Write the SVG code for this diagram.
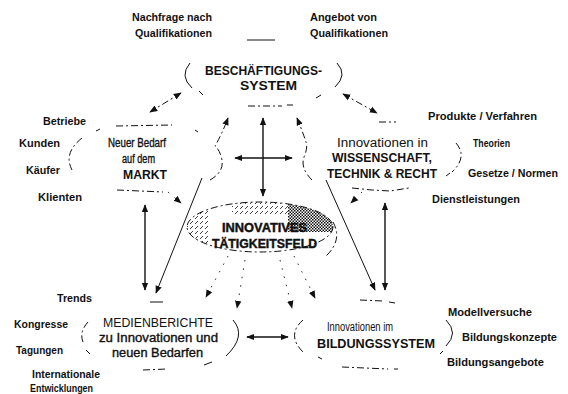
<svg xmlns="http://www.w3.org/2000/svg" width="568" height="394" viewBox="0 0 568 394">
<style>
text{font-family:"Liberation Sans",Arial,sans-serif;fill:#111}
.l{font-size:10px;font-weight:bold}
.n{font-size:12px}
.b{font-weight:bold}
.m{stroke:#111;stroke-width:0.35}
.p{fill:none;stroke:#111;stroke-width:1}
.d{stroke-dasharray:7 3 2 3}
.s{fill:none;stroke:#111;stroke-width:1.4}
.f{fill:none;stroke:#111;stroke-width:0.9;stroke-dasharray:1.5 7}
</style>
<defs>
<marker id="a" viewBox="0 0 10 10" refX="9" refY="5" markerWidth="8" markerHeight="8" markerUnits="userSpaceOnUse" orient="auto-start-reverse"><path d="M0,1 L10,5 L0,9 z" fill="#111"/></marker>
<pattern id="chk" width="3" height="3" patternUnits="userSpaceOnUse"><rect width="1.5" height="1.5" fill="#111"/><rect x="1.5" y="1.5" width="1.5" height="1.5" fill="#111"/></pattern>
<pattern id="hat" width="5" height="5" patternUnits="userSpaceOnUse"><path d="M0,4 L3,1" stroke="#111" stroke-width="0.8"/></pattern>
<clipPath id="ec"><ellipse cx="260" cy="227" rx="73" ry="25"/></clipPath>
</defs>
<rect width="568" height="394" fill="#fff"/>

<g id="connectors">
<path class="p d" d="M181,93 L150,112" marker-start="url(#a)" marker-end="url(#a)"/>
<path class="p d" d="M343,94 L377,113" marker-start="url(#a)" marker-end="url(#a)"/>
<path class="s" d="M263,118 V196" marker-start="url(#a)" marker-end="url(#a)"/>
<path class="s" d="M235,158 H292" marker-start="url(#a)" marker-end="url(#a)"/>
<path class="p d" d="M210,180 Q224,172 222,160 Q220,150 215,146 Q222,134 228,118" marker-end="url(#a)"/>
<path class="p d" d="M312,180 Q300,168 304,157 Q308,148 306,142 Q302,130 297,118" marker-end="url(#a)"/>
<path class="p" d="M202,178 L156,293" marker-end="url(#a)"/>
<path class="p" d="M326,180 L375,290" marker-end="url(#a)"/>
<path class="s" d="M145,205 V290" marker-start="url(#a)" marker-end="url(#a)"/>
<path class="s" d="M385,203 V290" marker-start="url(#a)" marker-end="url(#a)"/>
<path class="s" d="M247,337 H288" marker-start="url(#a)" marker-end="url(#a)"/>
<path class="f" d="M168,192 L181,203" marker-end="url(#a)"/>
<path class="f" d="M362,192 L351,203" marker-end="url(#a)"/>
<path class="f" d="M228,256 L206,297" marker-end="url(#a)"/>
<path class="f" d="M245,260 L237,308" marker-end="url(#a)"/>
<path class="f" d="M280,260 L292,308" marker-end="url(#a)"/>
<path class="f" d="M294,256 L315,298" marker-end="url(#a)"/>
</g>

<g id="qualifikationen-labels">
<text class="l" x="132" y="21" textLength="80" lengthAdjust="spacingAndGlyphs">Nachfrage nach</text>
<text class="l" x="135" y="37" textLength="77" lengthAdjust="spacingAndGlyphs">Qualifikationen</text>
<text class="l" x="310" y="21" textLength="67" lengthAdjust="spacingAndGlyphs">Angebot von</text>
<text class="l" x="310" y="37" textLength="78" lengthAdjust="spacingAndGlyphs">Qualifikationen</text>
</g>

<g id="beschaeftigungssystem">
<path class="p" d="M190,63 Q179,76 192,88"/>
<path class="p" d="M199,91 L203,95"/>
<path class="p" d="M337,63 Q348,75 335,87"/>
<path class="p" d="M321,95 L316,98"/>
<path class="p" d="M247,40 H275"/>
<path class="p d" d="M248,106 H282 M287,105 H293"/>
<text class="n b" x="205" y="75" textLength="117" lengthAdjust="spacingAndGlyphs">BESCHÄFTIGUNGS-</text>
<text class="n b" x="240" y="90" textLength="57" lengthAdjust="spacingAndGlyphs">SYSTEM</text>
</g>

<g id="neuer-bedarf">
<path class="p d" d="M116,126 L172,125"/>
<path class="p" d="M96,131 L100,129 M195,130 L198,132"/>
<path class="p d" d="M82,138 Q63,153 72,170"/>
<path class="p d" d="M117,190 L163,192"/>
<text class="n m" x="108" y="147" textLength="58" lengthAdjust="spacingAndGlyphs">Neuer Bedarf</text>
<text class="n m" x="122" y="163" textLength="33" lengthAdjust="spacingAndGlyphs">auf dem</text>
<text class="n b" x="123" y="179" textLength="44" lengthAdjust="spacingAndGlyphs">MARKT</text>
<text class="l" x="43" y="125" textLength="43" lengthAdjust="spacingAndGlyphs">Betriebe</text>
<text class="l" x="19" y="147" textLength="41" lengthAdjust="spacingAndGlyphs">Kunden</text>
<text class="l" x="26" y="174" textLength="34" lengthAdjust="spacingAndGlyphs">Käufer</text>
<text class="l" x="38" y="201" textLength="44" lengthAdjust="spacingAndGlyphs">Klienten</text>
</g>

<g id="innovationen-wissenschaft">
<path class="p d" d="M379,122 H396"/>
<path class="p d" d="M456,143 Q468,157 452,172"/>
<path class="p" d="M450,173 L446,176"/>
<path class="p d" d="M352,188 L372,190 L390,191 L409,188"/>
<text class="n" x="337" y="147" textLength="91" lengthAdjust="spacingAndGlyphs">Innovationen in</text>
<text class="n b" x="332" y="162" textLength="100" lengthAdjust="spacingAndGlyphs">WISSENSCHAFT,</text>
<text class="n b" x="327" y="178" textLength="110" lengthAdjust="spacingAndGlyphs">TECHNIK &amp; RECHT</text>
<text class="l" x="428" y="120" textLength="109" lengthAdjust="spacingAndGlyphs">Produkte / Verfahren</text>
<text class="l" x="473" y="147" textLength="37" lengthAdjust="spacingAndGlyphs">Theorien</text>
<text class="l" x="468" y="177" textLength="90" lengthAdjust="spacingAndGlyphs">Gesetze / Normen</text>
<text class="l" x="432" y="203" textLength="88" lengthAdjust="spacingAndGlyphs">Dienstleistungen</text>
</g>

<g id="innovatives-taetigkeitsfeld">
<rect x="288" y="200" width="46" height="32" fill="url(#chk)" clip-path="url(#ec)"/>
<rect x="232" y="201" width="56" height="13" fill="url(#hat)" clip-path="url(#ec)"/>
<rect x="186" y="210" width="22" height="36" fill="url(#hat)" clip-path="url(#ec)"/>
<ellipse class="p d" cx="260" cy="227" rx="73" ry="25"/>
<path class="p d" d="M333,222 Q343,240 326,256"/>
<text class="n b" x="222" y="232" stroke="#111" stroke-width="0.4" textLength="85" lengthAdjust="spacingAndGlyphs">INNOVATIVES</text>
<text class="n b" x="212" y="248" stroke="#111" stroke-width="0.4" textLength="105" lengthAdjust="spacingAndGlyphs">TÄTIGKEITSFELD</text>
</g>

<g id="medienberichte">
<path class="p" d="M150,302 H163"/>
<path class="p d" d="M88,322 Q79,332 83,342"/>
<path class="p" d="M86,350 L90,354"/>
<path class="p" d="M233,320 Q247,336 226,356"/>
<path class="p" d="M212,362 L204,365"/>
<path class="p d" d="M143,370 L167,369"/>
<text class="n" x="103" y="327" textLength="110" lengthAdjust="spacingAndGlyphs">MEDIENBERICHTE</text>
<text class="n m" x="99" y="342" textLength="119" lengthAdjust="spacingAndGlyphs">zu Innovationen und</text>
<text class="n m" x="112" y="357" textLength="91" lengthAdjust="spacingAndGlyphs">neuen Bedarfen</text>
<text class="l" x="57" y="302" textLength="35" lengthAdjust="spacingAndGlyphs">Trends</text>
<text class="l" x="14" y="328" textLength="54" lengthAdjust="spacingAndGlyphs">Kongresse</text>
<text class="l" x="16" y="354" textLength="47" lengthAdjust="spacingAndGlyphs">Tagungen</text>
<text class="l" x="32" y="378" textLength="68" lengthAdjust="spacingAndGlyphs">Internationale</text>
<text class="l" x="30" y="392" textLength="63" lengthAdjust="spacingAndGlyphs">Entwicklungen</text>
</g>

<g id="bildungssystem">
<path class="p d" d="M360,300 L383,301 M389,302 L395,303"/>
<path class="p d" d="M303,320 Q286,335 303,352"/>
<path class="p" d="M318,357 L322,359"/>
<path class="p" d="M446,320 Q459,333 446,346"/>
<path class="p" d="M443,351 L440,354"/>
<path class="p d" d="M342,367 L388,369 M394,369 H398"/>
<text class="n" x="327" y="331" textLength="66" lengthAdjust="spacingAndGlyphs">Innovationen im</text>
<text class="n b" x="317" y="348" textLength="118" lengthAdjust="spacingAndGlyphs">BILDUNGSSYSTEM</text>
<text class="l" x="448" y="316" textLength="84" lengthAdjust="spacingAndGlyphs">Modellversuche</text>
<text class="l" x="462" y="341" textLength="95" lengthAdjust="spacingAndGlyphs">Bildungskonzepte</text>
<text class="l" x="447" y="366" textLength="97" lengthAdjust="spacingAndGlyphs">Bildungsangebote</text>
</g>
</svg>
